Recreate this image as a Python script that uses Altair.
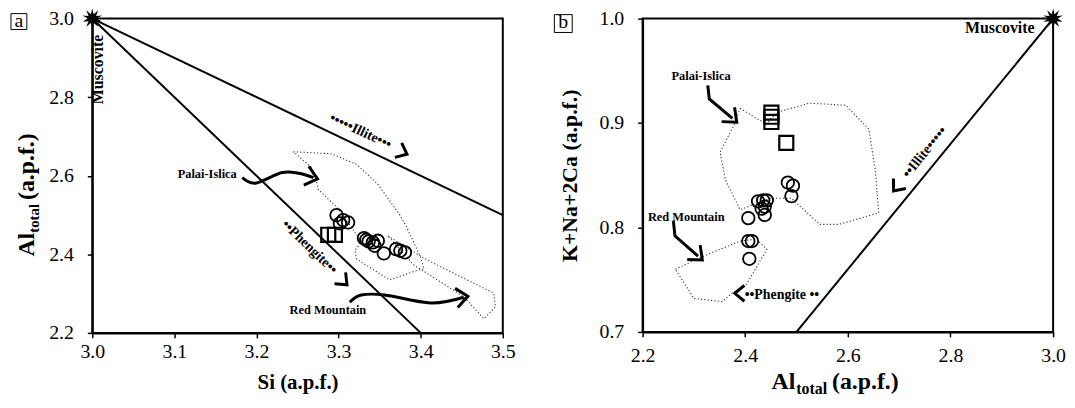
import math
import altair as alt
import pandas as pd

SERIF = "Liberation Serif"

# ---------------- Panel a : Si vs Al_total ----------------
a_circ_si = [3.2975, 3.3056, 3.3116, 3.3016, 3.3309, 3.3337, 3.3366, 3.3418, 3.3478, 3.3438, 3.3551, 3.3700, 3.3752, 3.3808]
a_circ_al = [2.4997, 2.4870, 2.4811, 2.4786, 2.4413, 2.4370, 2.4329, 2.4303, 2.4345, 2.4218, 2.4024, 2.4133, 2.4090, 2.4049]
a_sq_si = [3.2874, 3.2955]
a_sq_al = [2.4497, 2.4497]

a_line_id = ["Illite", "Illite", "Phengite", "Phengite"]
a_line_x = [3.0, 3.5, 3.0, 3.4]
a_line_y = [3.0, 2.5, 3.0, 2.2]

a_pi_x = [3.245, 3.291, 3.322, 3.348, 3.374, 3.382, 3.400, 3.404, 3.394, 3.362, 3.322, 3.320, 3.328, 3.300, 3.275, 3.272, 3.267, 3.245]
a_pi_y = [2.661, 2.656, 2.629, 2.578, 2.502, 2.473, 2.392, 2.363, 2.358, 2.335, 2.388, 2.411, 2.432, 2.515, 2.566, 2.595, 2.621, 2.661]
a_rm_x = [3.360, 3.404, 3.489, 3.491, 3.477, 3.453, 3.400, 3.392, 3.360]
a_rm_y = [2.447, 2.390, 2.301, 2.266, 2.236, 2.291, 2.362, 2.372, 2.447]

a_curve_id = ["pi"] * 5 + ["rm"] * 5
a_curve_x = [3.1827, 3.1989, 3.2311, 3.2512, 3.2693, 3.3136, 3.3277, 3.3559, 3.4122, 3.4525]
a_curve_y = [2.5954, 2.5810, 2.6081, 2.6064, 2.5954, 2.2780, 2.2965, 2.2965, 2.2762, 2.2907]

a_head_x = [3.378, 3.306, 3.2675, 3.4505]
a_head_y = [2.660, 2.331, 2.5960, 2.2910]
a_head_ang = [25, 44, 15, 352]
a_head_size = [260, 260, 380, 380]

a_txt = ["Muscovite", "Palai-Islica", "Red Mountain", "\u2022\u2022\u2022\u2022\u2022Illite\u2022\u2022\u2022", "\u2022\u2022Phengite\u2022\u2022"]
a_txt_x = [3.0072, 3.140, 3.287, 3.3267, 3.2645]
a_txt_y = [2.8705, 2.604, 2.259, 2.713, 2.4184]
a_txt_fs = [16, 12.5, 12.5, 14, 14]
a_txt_ang = [270, 0, 0, 25, 44]

# ---------------- Panel b : Al_total vs K+Na+2Ca ----------------
b_circ_al = [2.483, 2.493, 2.490, 2.425, 2.435, 2.442, 2.438, 2.432, 2.438, 2.406, 2.406, 2.413, 2.408]
b_circ_k = [0.843, 0.840, 0.830, 0.825, 0.826, 0.826, 0.820, 0.818, 0.812, 0.809, 0.787, 0.787, 0.770]
b_sq_al = [2.451, 2.451, 2.451, 2.480]
b_sq_k = [0.910, 0.906, 0.901, 0.881]

b_line_id = ["Illite", "Illite"]
b_line_x = [3.0, 2.5]
b_line_y = [1.0, 0.7]

b_pi_x = [2.390, 2.420, 2.442, 2.451, 2.467, 2.525, 2.596, 2.641, 2.654, 2.660, 2.583, 2.545, 2.490, 2.448, 2.390, 2.361, 2.351, 2.380, 2.390]
b_pi_y = [0.914, 0.905, 0.899, 0.905, 0.911, 0.919, 0.917, 0.894, 0.853, 0.814, 0.803, 0.803, 0.828, 0.828, 0.817, 0.846, 0.872, 0.900, 0.914]
b_rm_x = [2.264, 2.316, 2.390, 2.422, 2.442, 2.403, 2.374, 2.355, 2.300, 2.264]
b_rm_y = [0.760, 0.772, 0.787, 0.789, 0.779, 0.746, 0.737, 0.729, 0.732, 0.760]

b_arrow_id = ["pi"] * 3 + ["rm"] * 3
b_arrow_x = [2.327, 2.330, 2.375, 2.260, 2.263, 2.308]
b_arrow_y = [0.936, 0.923, 0.9045, 0.806, 0.792, 0.7725]

b_head_x = [2.375, 2.308, 2.695, 2.389]
b_head_y = [0.9045, 0.7725, 0.8385, 0.737]
b_head_ang = [42, 42, 129, 180]
b_head_size = [380, 380, 260, 260]

b_txt = ["Muscovite", "Palai-Islica", "Red Mountain", "\u2022\u2022Illite\u2022\u2022\u2022\u2022\u2022", "\u2022\u2022Phengite \u2022\u2022"]
b_txt_x = [2.896, 2.314, 2.285, 2.7498, 2.4715]
b_txt_y = [0.991, 0.945, 0.810, 0.8719, 0.735]
b_txt_fs = [16, 12.5, 12.5, 14, 14]
b_txt_ang = [0, 0, 0, 309, 0]

# ---------------- shapes ----------------
_pts = []
for k in range(20):
    ang = -math.pi / 2 + k * math.pi / 10
    r = 1.0 if k % 2 == 0 else 0.45
    _pts.append(f"{r * math.cos(ang):.3f},{r * math.sin(ang):.3f}")
STAR = "M" + "L".join(_pts) + "Z"
CHEV = "M-0.6,-1L0.6,0L-0.6,1"


def seq_df(ids, xs, ys):
    return pd.DataFrame({"id": ids, "x": xs, "y": ys, "o": list(range(len(xs)))})


def make_panel(xdom, ydom, xaxis, yaxis, circ, sq, lines, polys, arrows, interp,
               heads, texts, star_xy, box_label, box_xy, manual_titles, width, height):
    X = alt.X("x:Q", scale=alt.Scale(domain=xdom, nice=False, zero=False), axis=xaxis)
    Y = alt.Y("y:Q", scale=alt.Scale(domain=ydom, nice=False, zero=False), axis=yaxis)

    layers = []
    layers.append(alt.Chart(lines).mark_line(color="black", strokeWidth=2).encode(
        x=X, y=Y, detail="id:N", order="o:Q"))
    layers.append(alt.Chart(polys).mark_line(color="#333333", strokeWidth=1.1, strokeDash=[1.2, 2.2]).encode(
        x=X, y=Y, detail="id:N", order="o:Q"))
    layers.append(alt.Chart(arrows).mark_line(color="black", strokeWidth=3, interpolate=interp).encode(
        x=X, y=Y, detail="id:N", order="o:Q"))
    layers.append(alt.Chart(heads).mark_point(shape=CHEV, filled=False, color="black", strokeWidth=3,
                                              opacity=1, strokeJoin="miter").encode(
        x=X, y=Y, angle=alt.Angle("ang:Q", scale=None), size=alt.Size("s:Q", scale=None, legend=None)))
    layers.append(alt.Chart(circ).mark_point(shape="circle", filled=False, color="black", strokeWidth=1.8,
                                             size=160, opacity=1).encode(x=X, y=Y))
    layers.append(alt.Chart(sq).mark_point(shape="square", filled=False, color="black", strokeWidth=2.2,
                                           size=200, opacity=1).encode(x=X, y=Y))
    layers.append(alt.Chart(pd.DataFrame({"x": [star_xy[0]], "y": [star_xy[1]]})).mark_point(
        shape=STAR, filled=True, color="black", size=420, opacity=1).encode(x=X, y=Y))
    layers.append(alt.Chart(texts).mark_text(font=SERIF, fontWeight="bold", color="black",
                                             align="center", baseline="middle").encode(
        x=X, y=Y, text="t:N", size=alt.Size("fs:Q", scale=None, legend=None),
        angle=alt.Angle("ang:Q", scale=None)))
    # panel letter in a box
    one = pd.DataFrame({"t": [box_label]})
    layers.append(alt.Chart(one).mark_point(shape="square", filled=False, color="black", strokeWidth=1,
                                            size=box_xy[2] ** 2, opacity=1).encode(
        x=alt.value(box_xy[0]), y=alt.value(box_xy[1])))
    layers.append(alt.Chart(one).mark_text(font=SERIF, fontSize=20, color="black", align="center",
                                           baseline="middle", dy=-1).encode(
        text="t:N", x=alt.value(box_xy[0]), y=alt.value(box_xy[1])))
    # manual axis title with subscript
    for (txt, px, py, fs, ang) in manual_titles:
        layers.append(alt.Chart(pd.DataFrame({"t": [txt]})).mark_text(
            font=SERIF, fontWeight="bold", fontSize=fs, color="black", align="left",
            baseline="alphabetic", angle=ang).encode(text="t:N", x=alt.value(px), y=alt.value(py)))
    return alt.layer(*layers).properties(width=width, height=height)


def axis(values, title, label_pad, title_pad=0, title_size=21):
    kw = dict(values=values, format=".1f", grid=False, labelFont=SERIF, labelFontSize=20,
              labelColor="black", tickColor="black", domainColor="black", domainWidth=2,
              tickWidth=1.5, tickSize=5, labelPadding=label_pad, labelFlush=False,
              labelOverlap=False, ticks=True)
    if title is None:
        kw["title"] = None
    else:
        kw.update(title=title, titleFont=SERIF, titleFontSize=title_size, titleFontWeight="bold",
                  titleColor="black", titlePadding=title_pad)
    return alt.Axis(**kw)


pa = make_panel(
    [3.0, 3.5], [2.2, 3.0],
    axis([3.0, 3.1, 3.2, 3.3, 3.4, 3.5], "Si (a.p.f.)", 4, 10),
    axis([2.2, 2.4, 2.6, 2.8, 3.0], None, 14),
    pd.DataFrame({"x": a_circ_si, "y": a_circ_al}),
    pd.DataFrame({"x": a_sq_si, "y": a_sq_al}),
    seq_df(a_line_id, a_line_x, a_line_y),
    pd.concat([seq_df(["pi"] * len(a_pi_x), a_pi_x, a_pi_y), seq_df(["rm"] * len(a_rm_x), a_rm_x, a_rm_y)]),
    seq_df(a_curve_id, a_curve_x, a_curve_y), "cardinal",
    pd.DataFrame({"x": a_head_x, "y": a_head_y, "ang": a_head_ang, "s": a_head_size}),
    pd.DataFrame({"t": a_txt, "x": a_txt_x, "y": a_txt_y, "fs": a_txt_fs, "ang": a_txt_ang}),
    (3.0, 3.0), "a", (-74, 3, 16),
    [("Al", -59, 240, 24, 270), ("total", -54, 216, 15, 270), ("(a.p.f.)", -59, 183, 24, 270)],
    414, 317,
)

pb = make_panel(
    [2.2, 3.0], [0.7, 1.0],
    axis([2.2, 2.4, 2.6, 2.8, 3.0], None, 9),
    axis([0.7, 0.8, 0.9, 1.0], "K+Na+2Ca (a.p.f.)", 14, 18, 22),
    pd.DataFrame({"x": b_circ_al, "y": b_circ_k}),
    pd.DataFrame({"x": b_sq_al, "y": b_sq_k}),
    seq_df(b_line_id, b_line_x, b_line_y),
    pd.concat([seq_df(["pi"] * len(b_pi_x), b_pi_x, b_pi_y), seq_df(["rm"] * len(b_rm_x), b_rm_x, b_rm_y)]),
    seq_df(b_arrow_id, b_arrow_x, b_arrow_y), "linear",
    pd.DataFrame({"x": b_head_x, "y": b_head_y, "ang": b_head_ang, "s": b_head_size}),
    pd.DataFrame({"t": b_txt, "x": b_txt_x, "y": b_txt_y, "fs": b_txt_fs, "ang": b_txt_ang}),
    (3.0, 1.0), "b", (-80, 5, 18),
    [("Al", 130, 374, 24, 0), ("total", 155, 379, 16, 0), ("(a.p.f.)", 191, 374, 24, 0)],
    414, 316,
)

chart = alt.hconcat(pa, pb, spacing=35).properties(
    padding={"top": -3, "left": 0, "right": 0, "bottom": 0}, background="white").configure_view(
    stroke="black", strokeWidth=2)

chart.save("out.html", embed_options={"renderer": "svg", "actions": False})
